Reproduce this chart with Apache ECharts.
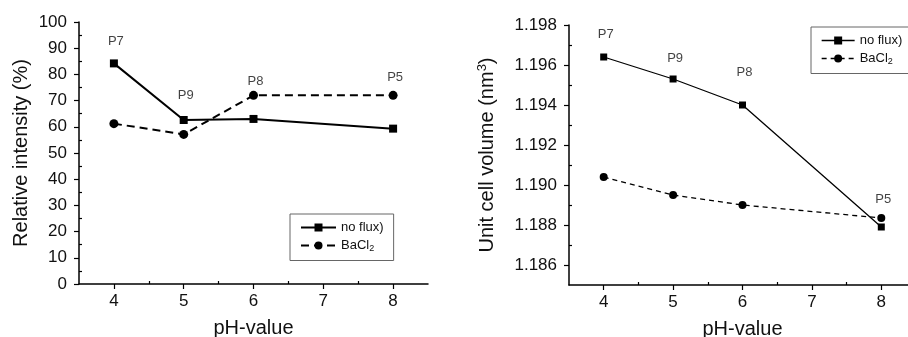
<!DOCTYPE html>
<html>
<head>
<meta charset="utf-8">
<script src="https://cdn.jsdelivr.net/npm/echarts@6/dist/echarts.min.js"></script>
<style>
html, body { margin: 0; padding: 0; background: #fff; }
#chart { width: 908px; height: 337px; }
</style>
</head>
<body>
<div id="chart"></div>
<script>
// data
const phValues = [4, 5, 6, 8];
const sampleNames = ['P7', 'P9', 'P8', 'P5'];
const intensityNoFlux = [84.2, 62.6, 63.0, 59.3];
const intensityBaCl2 = [61.2, 57.1, 72.0, 72.0];
const intensityLabelY = [92.6, 72.0, 77.5, 79.0];
const volumeNoFlux = [1.1964, 1.1953, 1.1940, 1.1879];
const volumeBaCl2 = [1.1904, 1.1895, 1.1890, 1.18835];
const volumeLabelY = [1.19753, 1.19633, 1.19562, 1.18929];

const xTicks = [4, 5, 6, 7, 8];
const xMinorTicks = [4.5, 5.5, 6.5, 7.5];
const intensityMinorTicks = [5, 15, 25, 35, 45, 55, 65, 75, 85, 95];
const volumeTicks = [1.186, 1.188, 1.190, 1.192, 1.194, 1.196, 1.198];
const volumeMinorTicks = [1.187, 1.189, 1.191, 1.193, 1.195, 1.197];

const FONT = 'Liberation Sans, Arial, sans-serif';
const INK = '#111';

function pairs(xs, ys) {
    return xs.map(function (x, i) { return [x, ys[i]]; });
}
function labelData(ys) {
    return phValues.map(function (x, i) { return { name: sampleNames[i], value: [x, ys[i]] }; });
}

var chartDom = document.getElementById('chart');
var myChart = echarts.init(chartDom);

function mainX(grid) {
    return {
        type: 'value', gridIndex: grid, min: 3.5, max: 8.5,
        name: 'pH-value', nameLocation: 'middle', nameGap: 34,
        nameTextStyle: { fontFamily: FONT, fontSize: 20, color: INK },
        axisLine: { lineStyle: { color: '#000', width: 1.5 } },
        axisTick: { length: 5, customValues: xTicks, lineStyle: { color: '#000', width: 1.2 } },
        axisLabel: { customValues: xTicks, margin: 9, fontFamily: FONT, fontSize: 17, color: INK },
        splitLine: { show: false }
    };
}
function minorX(grid) {
    return {
        type: 'value', gridIndex: grid, min: 3.5, max: 8.5, position: 'bottom',
        axisLine: { show: false },
        axisTick: { inside: true, length: 3, customValues: xMinorTicks, lineStyle: { color: '#000', width: 1.2 } },
        axisLabel: { show: false },
        splitLine: { show: false }
    };
}

var legendText = {
    fontFamily: FONT, fontSize: 13, color: INK,
    rich: {
        t: { fontFamily: FONT, fontSize: 13, color: INK },
        s: { fontFamily: FONT, fontSize: 9, color: INK, padding: [7, 0, 0, 0] }
    }
};
function legendFormatter(name) {
    return name === 'BaCl2' ? '{t|BaCl}{s|2}' : '{t|' + name + '}';
}

var option = {
    animation: false,
    grid: [
        { left: 79, top: 22, right: 480, bottom: 53, outerBoundsMode: 'none' },
        { left: 569, top: 25, right: -8, bottom: 52, outerBoundsMode: 'none' }
    ],
    legend: [
        {
            orient: 'vertical', left: 290, top: 214,
            padding: [7, 10, 7, 10], itemGap: 5, itemWidth: 35, itemHeight: 10,
            borderColor: '#666', borderWidth: 1,
            textStyle: legendText, formatter: legendFormatter,
            data: ['no flux)', 'BaCl2']
        },
        {
            orient: 'vertical', left: 811, top: 27,
            padding: [7, 14, 7, 10], itemGap: 5, itemWidth: 33, itemHeight: 10,
            borderColor: '#666', borderWidth: 1,
            textStyle: legendText, formatter: legendFormatter,
            data: [
                { name: 'no flux)', lineStyle: { width: 1.3 } },
                { name: 'BaCl2', lineStyle: { width: 1.3, type: [5, 4] } }
            ]
        }
    ],
    xAxis: [mainX(0), minorX(0), mainX(1), minorX(1)],
    yAxis: [
        {
            type: 'value', gridIndex: 0, min: 0, max: 100, interval: 10,
            name: 'Relative intensity (%)', nameLocation: 'middle', nameGap: 48,
            nameTextStyle: { fontFamily: FONT, fontSize: 20, color: INK },
            axisLine: { show: true, lineStyle: { color: '#000', width: 1.5 } },
            axisTick: { length: 5, lineStyle: { color: '#000', width: 1.2 } },
            axisLabel: { margin: 12, fontFamily: FONT, fontSize: 17, color: INK },
            splitLine: { show: false }
        },
        {
            type: 'value', gridIndex: 0, min: 0, max: 100, position: 'left',
            axisLine: { show: false },
            axisTick: { inside: true, length: 3, customValues: intensityMinorTicks, lineStyle: { color: '#000', width: 1.2 } },
            axisLabel: { show: false },
            splitLine: { show: false }
        },
        {
            type: 'value', gridIndex: 1, min: 1.185, max: 1.198,
            name: '{t|Unit cell volume (nm}{s|3}{t|)}', nameLocation: 'middle', nameGap: 70,
            nameTextStyle: {
                fontFamily: FONT, fontSize: 20, color: INK,
                rich: {
                    t: { fontFamily: FONT, fontSize: 20, color: INK },
                    s: { fontFamily: FONT, fontSize: 13, color: INK, padding: [0, 0, 10, 0] }
                }
            },
            axisLine: { show: true, lineStyle: { color: '#000', width: 1.5 } },
            axisTick: { length: 5, customValues: volumeTicks, lineStyle: { color: '#000', width: 1.2 } },
            axisLabel: {
                customValues: volumeTicks, margin: 12, fontFamily: FONT, fontSize: 17, color: INK,
                formatter: function (v) { return v.toFixed(3); }
            },
            splitLine: { show: false }
        },
        {
            type: 'value', gridIndex: 1, min: 1.185, max: 1.198, position: 'left',
            axisLine: { show: false },
            axisTick: { inside: true, length: 3, customValues: volumeMinorTicks, lineStyle: { color: '#000', width: 1.2 } },
            axisLabel: { show: false },
            splitLine: { show: false }
        }
    ],
    series: [
        {
            name: 'no flux)', type: 'line', xAxisIndex: 0, yAxisIndex: 0,
            data: pairs(phValues, intensityNoFlux),
            symbol: 'rect', symbolSize: 8, color: '#000',
            lineStyle: { color: '#000', width: 2 },
            itemStyle: { color: '#000' }
        },
        {
            name: 'BaCl2', type: 'line', xAxisIndex: 0, yAxisIndex: 0,
            data: pairs(phValues, intensityBaCl2),
            symbol: 'circle', symbolSize: 9, color: '#000',
            lineStyle: { color: '#000', width: 2, type: [8, 5] },
            itemStyle: { color: '#000' }
        },
        {
            name: 'no flux)', type: 'line', xAxisIndex: 2, yAxisIndex: 2,
            data: pairs(phValues, volumeNoFlux),
            symbol: 'rect', symbolSize: 7, color: '#000',
            lineStyle: { color: '#000', width: 1.3 },
            itemStyle: { color: '#000' }
        },
        {
            name: 'BaCl2', type: 'line', xAxisIndex: 2, yAxisIndex: 2,
            data: pairs(phValues, volumeBaCl2),
            symbol: 'circle', symbolSize: 8, color: '#000',
            lineStyle: { color: '#000', width: 1.3, type: [5, 4] },
            itemStyle: { color: '#000' }
        },
        {
            name: 'samples-left', type: 'scatter', xAxisIndex: 0, yAxisIndex: 0,
            symbolSize: 0, silent: true,
            data: labelData(intensityLabelY),
            label: {
                show: true, position: 'inside', offset: [2, 0],
                formatter: '{b}', fontFamily: FONT, fontSize: 13, color: INK
            }
        },
        {
            name: 'samples-right', type: 'scatter', xAxisIndex: 2, yAxisIndex: 2,
            symbolSize: 0, silent: true,
            data: labelData(volumeLabelY),
            label: {
                show: true, position: 'inside', offset: [2, 0],
                formatter: '{b}', fontFamily: FONT, fontSize: 13, color: INK
            }
        }
    ]
};

option && myChart.setOption(option);
</script>
</body>
</html>
